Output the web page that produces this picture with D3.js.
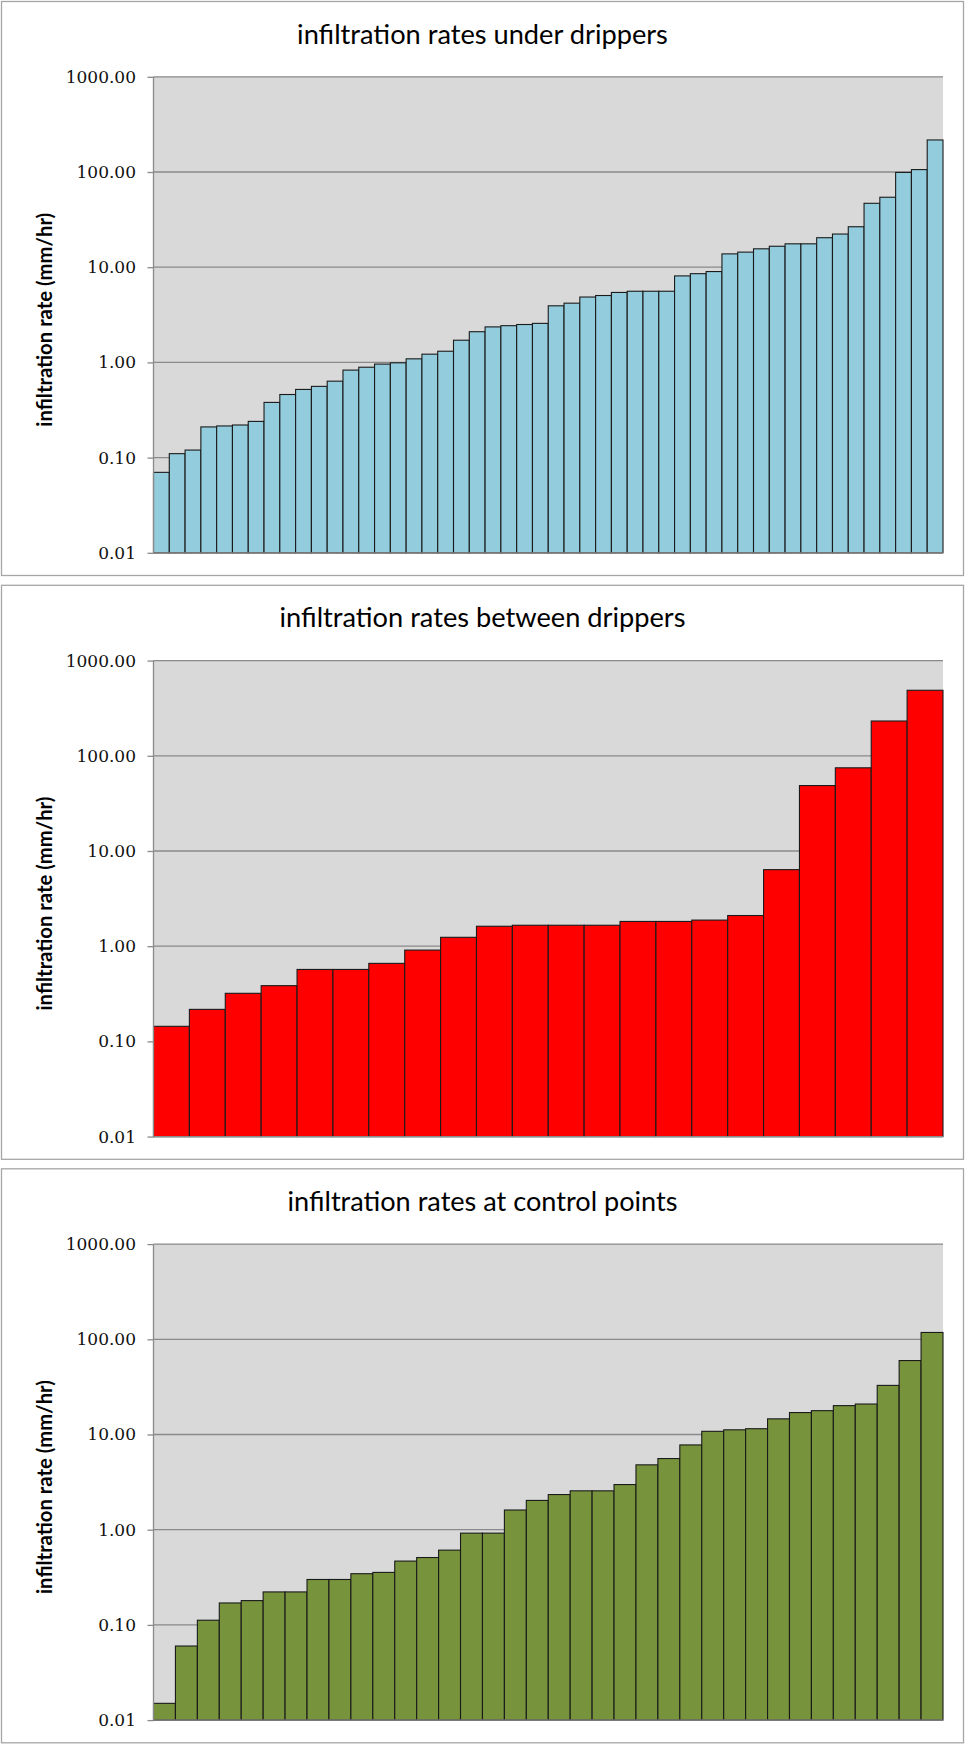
<!DOCTYPE html>
<html>
<head>
<meta charset="utf-8">
<script src="https://cdn.jsdelivr.net/npm/d3@7/dist/d3.min.js"></script>
<style>
  html, body { margin: 0; padding: 0; background: #ffffff; }
  svg { display: block; }
</style>
</head>
<body>
<script>
// ---- data ----
const panelTitles = [
  "infiltration rates under drippers",
  "infiltration rates between drippers",
  "infiltration rates at control points"
];
const yAxisTitle = "infiltration rate (mm/hr)";
const tickValues = [0.01, 0.1, 1, 10, 100, 1000];
const tickLabels = ["0.01", "0.10", "1.00", "10.00", "100.00", "1000.00"];

const underDrippers = [0.07, 0.11, 0.12, 0.21, 0.215, 0.22, 0.24, 0.38, 0.46, 0.52,
  0.56, 0.635, 0.83, 0.89, 0.96, 0.99, 1.09, 1.22, 1.31, 1.71,
  2.1, 2.36, 2.43, 2.5, 2.57, 3.93, 4.19, 4.86, 5.04, 5.43,
  5.59, 5.59, 5.59, 8.1, 8.55, 9.0, 13.8, 14.4, 15.6, 16.6,
  17.6, 17.6, 20.4, 22.3, 26.6, 46.9, 54.3, 99, 106, 217];
const betweenDrippers = [0.144, 0.217, 0.32, 0.385, 0.57, 0.57, 0.66, 0.91, 1.24, 1.62,
  1.66, 1.66, 1.66, 1.82, 1.82, 1.88, 2.1, 6.37, 48.7, 74.8, 232, 488];
const controlPoints = [0.015, 0.06, 0.112, 0.17, 0.18, 0.222, 0.222, 0.30, 0.30, 0.345,
  0.356, 0.468, 0.51, 0.61, 0.92, 0.92, 1.61, 2.03, 2.34, 2.56,
  2.56, 2.98, 4.8, 5.59, 7.77, 10.8, 11.2, 11.5, 14.6, 17.0,
  17.8, 20.1, 20.9, 32.8, 59.8, 118];

const seriesList = [underDrippers, betweenDrippers, controlPoints];
const fills = ["#93cddd", "#ff0000", "#77933c"];

// ---- layout ----
const W = 965, H = 1744;
const panelTops = [1.5, 585.3, 1168.8];
const panelHeight = 574;
const panelLeft = 1.5, panelRight = 963.5;
const plotLeft = 153.5, plotRight = 943;
const plotOffset = 75.3, plotHeight = 476;
const titleWidths = [371, 406, 390];
const yTitleWidth = 214;

function fitText(sel, target) {
  const fs = +sel.attr("font-size");
  const w = sel.node().getComputedTextLength();
  if (w > 0) sel.attr("font-size", fs * target / w);
}

const svg = d3.select("body").append("svg")
  .attr("width", W).attr("height", H)
  .attr("viewBox", `0 0 ${W} ${H}`);

seriesList.forEach((values, p) => {
  const top = panelTops[p];
  const g = svg.append("g");

  // panel frame
  g.append("rect")
    .attr("x", panelLeft).attr("y", top)
    .attr("width", panelRight - panelLeft).attr("height", panelHeight)
    .attr("fill", "#ffffff").attr("stroke", "#a6a6a6").attr("stroke-width", 1.3);

  // title
  const t = g.append("text")
    .attr("x", (panelLeft + panelRight) / 2)
    .attr("y", top + 42)
    .attr("text-anchor", "middle")
    .attr("font-family", "Lato, 'Open Sans', sans-serif")
    .attr("font-size", 26)
    .attr("fill", "#000")
    .text(panelTitles[p]);
  fitText(t, titleWidths[p]);

  const y0 = top + plotOffset, y1 = y0 + plotHeight;
  const x = d3.scaleBand()
    .domain(values.map((d, i) => i))
    .range([plotLeft, plotRight])
    .padding(0);
  const y = d3.scaleLog().domain([0.01, 1000]).range([y1, y0]);

  // plot background
  g.append("rect")
    .attr("x", plotLeft).attr("y", y0)
    .attr("width", plotRight - plotLeft).attr("height", plotHeight)
    .attr("fill", "#d9d9d9");

  // gridlines
  g.append("g").selectAll("line").data(tickValues).join("line")
    .attr("x1", plotLeft).attr("x2", plotRight)
    .attr("y1", d => y(d)).attr("y2", d => y(d))
    .attr("stroke", "#8a8a8a").attr("stroke-width", 1.3);

  // bars
  g.append("g").selectAll("rect").data(values).join("rect")
    .attr("x", (d, i) => x(i))
    .attr("y", d => y(d))
    .attr("width", x.bandwidth())
    .attr("height", d => y1 - y(d))
    .attr("fill", fills[p])
    .attr("stroke", "#1a1a1a")
    .attr("stroke-width", 1.1);

  // left axis
  const axis = d3.axisLeft(y)
    .tickValues(tickValues)
    .tickFormat((d, i) => tickLabels[i])
    .tickSize(6)
    .tickPadding(11.5);
  const ag = g.append("g").attr("transform", `translate(${plotLeft},0)`).call(axis);
  ag.select(".domain").attr("stroke", "#8a8a8a").attr("stroke-width", 1.3)
    .attr("d", `M0,${y0}V${y1}`);
  ag.selectAll(".tick line").attr("stroke", "#8a8a8a").attr("stroke-width", 1.3);
  ag.selectAll(".tick text")
    .attr("font-family", "'DejaVu Serif', serif")
    .attr("font-size", 17)
    .attr("fill", "#111");

  // bottom axis line
  g.append("line")
    .attr("x1", plotLeft).attr("x2", plotRight)
    .attr("y1", y1).attr("y2", y1)
    .attr("stroke", "#8a8a8a").attr("stroke-width", 1.3);

  // y axis title
  const yt = g.append("text")
    .attr("transform", `translate(44,${(y0 + y1) / 2 + 5}) rotate(-90)`)
    .attr("text-anchor", "middle")
    .attr("dominant-baseline", "central")
    .attr("font-family", "Lato, 'Open Sans', sans-serif")
    .attr("font-weight", "bold")
    .attr("font-size", 17)
    .attr("fill", "#000")
    .text(yAxisTitle);
  fitText(yt, yTitleWidth);
});
</script>
</body>
</html>
